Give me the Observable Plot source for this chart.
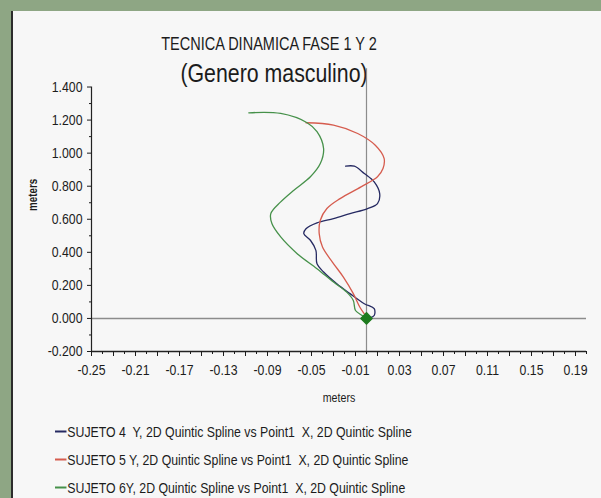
<!DOCTYPE html>
<html><head><meta charset="utf-8">
<script src="https://cdn.jsdelivr.net/npm/d3@7"></script>
<script src="https://cdn.jsdelivr.net/npm/@observablehq/plot@0.6"></script>
<style>
html,body{margin:0;padding:0;}
body{width:601px;height:498px;background:#8ea684;position:relative;overflow:hidden;font-family:"Liberation Sans","Arial",sans-serif;color:#1c1c1c;}
#panel{position:absolute;left:11px;top:11px;right:0;bottom:0;background:#f7f7f7;border-left:2px solid #2c2c2c;}
#chart{position:absolute;left:0;top:0;}
.t{position:absolute;white-space:nowrap;transform:translate(-50%,-50%) scaleX(0.82);line-height:1;}
#legend{position:absolute;left:55px;top:0;}
.row{position:absolute;left:0;white-space:pre;font-size:15px;line-height:1;transform:translateY(-50%) scaleX(0.82);transform-origin:0 50%;display:flex;align-items:center;}
.dash{display:inline-block;width:14px;height:2px;margin-right:1px;}
</style></head>
<body>
<div id="panel"></div>
<div class="t" id="title" style="left:269px;top:45px;font-size:17.7px;"></div>
<div class="t" id="subtitle" style="left:274px;top:73px;font-size:26px;"></div>
<div id="chart"></div>
<div id="legend"></div>
<script>
const title = "TECNICA DINAMICA FASE 1 Y 2";
const subtitle = "(Genero masculino)";
const xTickLabels = [-0.25, -0.21, -0.17, -0.13, -0.09, -0.05, -0.01, 0.03, 0.07, 0.11, 0.15, 0.19];
const yTickLabels = [-0.2, 0, 0.2, 0.4, 0.6, 0.8, 1.0, 1.2, 1.4];
const axisTitleX = "meters";
const axisTitleY = "meters";

const seriesNames = [
  "SUJETO 4  Y, 2D Quintic Spline vs Point1  X, 2D Quintic Spline",
  "SUJETO 5 Y, 2D Quintic Spline vs Point1  X, 2D Quintic Spline",
  "SUJETO 6Y, 2D Quintic Spline vs Point1  X, 2D Quintic Spline"
];
const seriesColors = ["#262a62", "#d65c4e", "#46914a"];

const s4x = [-0.019, -0.011, -0.002, 0.007, 0.012, 0.010, 0.001, -0.015, -0.030, -0.045, -0.055, -0.057, -0.051, -0.046, -0.045, -0.039, -0.027, -0.015, -0.002, 0.007, 0.007, 0.003];
const s4y = [0.921, 0.921, 0.877, 0.826, 0.755, 0.695, 0.665, 0.634, 0.604, 0.578, 0.543, 0.513, 0.473, 0.412, 0.331, 0.281, 0.210, 0.150, 0.089, 0.059, 0.018, 0.004];

const s5x = [-0.055, -0.030, -0.008, 0.008, 0.016, 0.015, 0.010, -0.005, -0.024, -0.036, -0.042, -0.043, -0.040, -0.031, -0.021, -0.012, -0.006, -0.002, 0.000];
const s5y = [1.184, 1.170, 1.119, 1.048, 0.968, 0.907, 0.857, 0.796, 0.725, 0.665, 0.594, 0.513, 0.432, 0.341, 0.250, 0.150, 0.068, 0.028, 0.010];

const s6x = [-0.107, -0.078, -0.054, -0.045, -0.039, -0.042, -0.051, -0.066, -0.078, -0.087, -0.086, -0.078, -0.063, -0.045, -0.030, -0.018, -0.012, -0.010, -0.004, 0.000];
const s6y = [1.244, 1.240, 1.184, 1.130, 1.028, 0.937, 0.857, 0.776, 0.705, 0.634, 0.574, 0.493, 0.392, 0.301, 0.220, 0.159, 0.109, 0.048, 0.018, 0.000];

const originX = [0];
const originY = [0];

document.getElementById("title").textContent = title;
document.getElementById("subtitle").textContent = subtitle;

const toRows = (xs, ys, s) => xs.map((x, i) => ({x, y: ys[i], s}));
const rows = [
  ...toRows(s4x, s4y, seriesNames[0]),
  ...toRows(s5x, s5y, seriesNames[1]),
  ...toRows(s6x, s6y, seriesNames[2])
];
const origin = originX.map((x, i) => ({x, y: originY[i]}));

const xMinor = d3.range(0, 46).map(i => +(-0.25 + i * 0.01).toFixed(2));
const xMajor = d3.range(0, 23).map(i => +(-0.25 + i * 0.02).toFixed(2));
const yMinor = d3.range(0, 8).map(i => +(-0.1 + i * 0.2).toFixed(1));

const chart = Plot.plot({
  width: 601,
  height: 420,
  marginLeft: 91,
  marginRight: 15,
  marginTop: 70,
  marginBottom: 69,
  style: {background: "transparent", fontFamily: "'Liberation Sans',Arial,sans-serif", fontSize: "15px", color: "#1c1c1c"},
  x: {domain: [-0.25, 0.2]},
  y: {domain: [-0.2, 1.5]},
  color: {domain: seriesNames, range: seriesColors},
  marks: [
    Plot.ruleY([0], {stroke: "#8c8c8c", strokeWidth: 1.5}),
    Plot.ruleX([0], {y1: -0.2, y2: 1.51, stroke: "#8c8c8c", strokeWidth: 1.2}),
    Plot.line(rows, {x: "x", y: "y", z: "s", stroke: "s", strokeWidth: 1.3, curve: "catmull-rom"}),
    Plot.dot(origin, {x: "x", y: "y", symbol: "diamond2", r: 5, fill: "#1d7a1d", stroke: "#1d7a1d", strokeLinejoin: "round"}),
    Plot.ruleX([-0.25], {y1: -0.2, y2: 1.4, stroke: "#222", strokeWidth: 1.2}),
    Plot.ruleY([-0.2], {stroke: "#222", strokeWidth: 1.5}),
    Plot.axisY({ticks: yTickLabels, tickSize: 4, tickPadding: 5, tickFormat: d => d.toFixed(3), label: null, fontSize: 15}),
    Plot.axisY({ticks: yMinor, tickSize: 2, tickFormat: () => "", label: null}),
    Plot.axisX({ticks: xMinor, tickSize: 3, tickFormat: () => "", label: null}),
    Plot.axisX({ticks: xMajor, tickSize: 5, tickFormat: () => "", label: null}),
    Plot.axisX({ticks: xTickLabels, tickSize: 0, tickPadding: 13, tickFormat: d => d.toFixed(2), label: null, fontSize: 15}),
    Plot.text([axisTitleX], {text: d => d, frameAnchor: "bottom", dy: 50, fontSize: 13}),
    Plot.text([axisTitleY], {text: d => d, frameAnchor: "left", dx: -58, rotate: -90, fontSize: 12, fontWeight: "bold"})
  ]
});
d3.select(chart).selectAll("text").each(function() {
  const t = this.getAttribute("transform") || "";
  this.setAttribute("transform", (t + " scale(0.82,1)").trim());
});
document.getElementById("chart").appendChild(chart);

const legend = document.getElementById("legend");
const legendY = [431, 459, 487];
seriesNames.forEach((name, i) => {
  const row = document.createElement("div");
  row.className = "row";
  row.style.top = legendY[i] + "px";
  const dash = document.createElement("span");
  dash.className = "dash";
  dash.style.background = seriesColors[i];
  const txt = document.createElement("span");
  txt.textContent = name;
  row.appendChild(dash);
  row.appendChild(txt);
  legend.appendChild(row);
});
</script>
</body></html>
